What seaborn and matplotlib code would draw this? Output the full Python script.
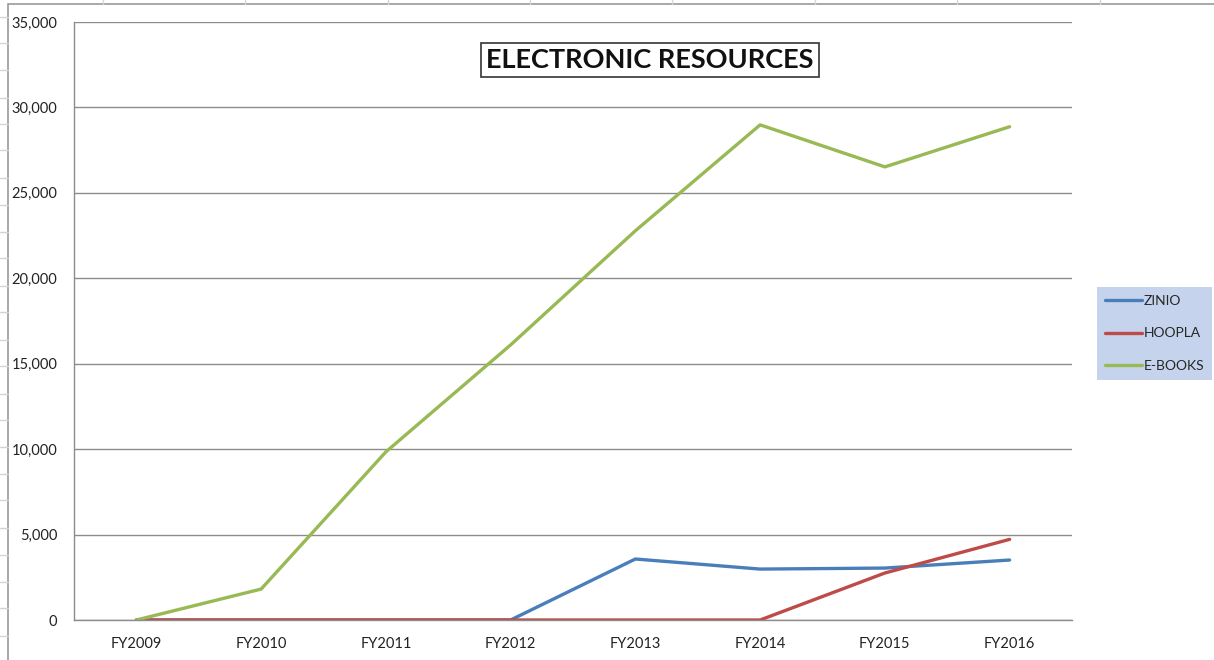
import pandas as pd
import matplotlib.pyplot as plt
import seaborn as sns
from matplotlib.patches import Rectangle

years = ['FY2009', 'FY2010', 'FY2011', 'FY2012', 'FY2013', 'FY2014', 'FY2015', 'FY2016']
zinio = [0, 0, 0, 0, 3570, 2980, 3040, 3510]
hoopla = [0, 0, 0, 0, 0, 0, 2750, 4720]
ebooks = [0, 1810, 9840, 16100, 22780, 28980, 26520, 28870]

series_names = ['ZINIO', 'HOOPLA', 'E-BOOKS']
colors = ['#4a7ebb', '#be4b48', '#98b954']

df = pd.DataFrame({'Year': years, 'ZINIO': zinio, 'HOOPLA': hoopla, 'E-BOOKS': ebooks})
long_df = df.melt(id_vars='Year', var_name='Series', value_name='Value')

sns.set_style('white')
plt.rcParams['font.family'] = ['Lato', 'DejaVu Sans']

fig = plt.figure(figsize=(12.14, 6.60), dpi=100)
ax = fig.add_axes([74 / 1214, 40 / 660, 998 / 1214, 598 / 660])

sns.lineplot(data=long_df, x='Year', y='Value', hue='Series', hue_order=series_names,
             palette=colors, linewidth=2.4, ax=ax, sort=False)

ax.set_xlim(-0.5, len(years) - 0.5)
ax.set_ylim(0, 35000)
ax.set_yticks(range(0, 35001, 5000))
ax.set_yticklabels(['0' if v == 0 else f'{v:,}' for v in range(0, 35001, 5000)])
ax.grid(axis='y', color='#8c8c8c', linewidth=1)
ax.grid(axis='x', visible=False)
ax.set_axisbelow(True)
for side in ['top', 'right']:
    ax.spines[side].set_visible(False)
for side in ['left', 'bottom']:
    ax.spines[side].set_color('#8c8c8c')
    ax.spines[side].set_linewidth(1)
ax.tick_params(axis='both', length=0, labelsize=10.5, colors='#222222')
ax.tick_params(axis='y', pad=12)
ax.tick_params(axis='x', pad=12)
ax.set_xlabel('')
ax.set_ylabel('')

leg = ax.legend(loc='upper left', bbox_to_anchor=(1.025, 0.557), frameon=True, fontsize=10,
                handlelength=2.7, handletextpad=0.1, labelspacing=1.5, borderpad=0.55,
                borderaxespad=0, fancybox=False)
leg.get_frame().set_facecolor('#b7cae8')
leg.get_frame().set_edgecolor('none')
for line in leg.get_lines():
    line.set_linewidth(2.4)

fig.text(650 / 1214, 1 - 60 / 660, 'ELECTRONIC RESOURCES', ha='center', va='center',
         fontsize=19.5, fontweight='bold', color='#111111',
         bbox=dict(boxstyle='square,pad=0.2', facecolor='white', edgecolor='#333333', linewidth=1.2))

# spreadsheet cells behind the chart
for y in [17, 43, 70, 98, 124, 150, 178, 205, 232, 258, 286, 312, 340, 366, 394, 420, 447, 474, 500, 528, 555, 582, 608, 636]:
    fig.add_artist(plt.Line2D([0, 8 / 1214], [1 - y / 660, 1 - y / 660], color='#d4d4d4', linewidth=1))
for x in [103, 245, 388, 530, 672, 815, 957, 1100]:
    fig.add_artist(plt.Line2D([x / 1214, x / 1214], [1 - 4 / 660, 1], color='#d4d4d4', linewidth=1))
fig.add_artist(Rectangle((8 / 1214, -0.01), 1.0, 1 - 4 / 660 + 0.01, transform=fig.transFigure,
                         fill=False, edgecolor='#9a9a9a', linewidth=1.2))

fig.savefig('out.png', dpi=100)
